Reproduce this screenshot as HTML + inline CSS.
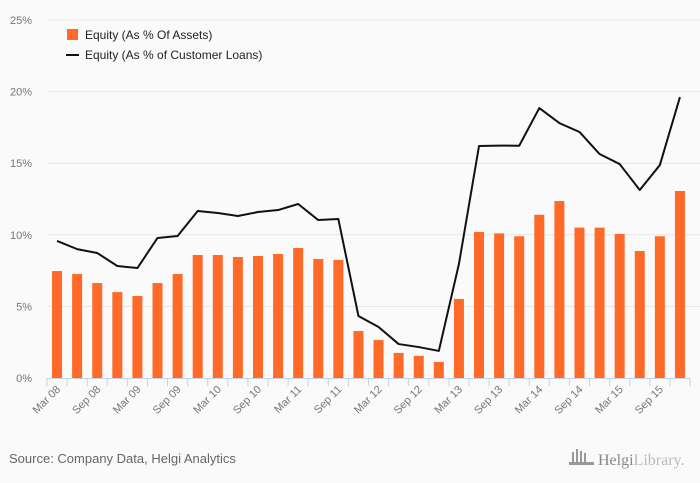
<!DOCTYPE html>
<html><head><meta charset="utf-8"><style>
body{margin:0;background:#fafafa;}
svg{display:block;font-family:"Liberation Sans",sans-serif;}
</style></head><body>
<svg id="c" width="700" height="483">
<rect width="700" height="483" fill="#fafafa"/>
<g id="grid"></g><g id="bars"></g><g id="line"></g><g id="axes"></g>
<g>
<rect x="67" y="29" width="11" height="11" fill="#ff6a28"/>
<text x="85" y="39" font-size="12" fill="#222">Equity (As % Of Assets)</text>
<line x1="66" y1="55" x2="79" y2="55" stroke="#111" stroke-width="2"/>
<text x="85" y="59" font-size="12" fill="#222">Equity (As % of Customer Loans)</text>
</g>
<text x="9" y="463" font-size="13" fill="#666">Source: Company Data, Helgi Analytics</text>
<g>
<rect x="572" y="452" width="2" height="10" fill="#999"/><rect x="576" y="449" width="2" height="13" fill="#999"/><rect x="580" y="451" width="2" height="11" fill="#999"/><rect x="584" y="453" width="2" height="9" fill="#999"/>
<rect x="569" y="462" width="25" height="3" fill="#999"/>
<text x="598" y="465" font-size="16" fill="#888" font-family="Liberation Serif,serif">Helgi<tspan fill="#bbb">Library.</tspan></text>
</g>
</svg>
<script>
const categories=["Mar 08","Jun 08","Sep 08","Dec 08","Mar 09","Jun 09","Sep 09","Dec 09","Mar 10","Jun 10","Sep 10","Dec 10","Mar 11","Jun 11","Sep 11","Dec 11","Mar 12","Jun 12","Sep 12","Dec 12","Mar 13","Jun 13","Sep 13","Dec 13","Mar 14","Jun 14","Sep 14","Dec 14","Mar 15","Jun 15","Sep 15","Dec 15"];
const assetsValues=[7.47,7.26,6.63,6.0,5.73,6.63,7.26,8.59,8.59,8.45,8.52,8.66,9.08,8.31,8.24,3.28,2.65,1.75,1.54,1.12,5.52,10.2,10.1,9.9,11.4,12.36,10.5,10.5,10.06,8.87,9.9,13.06];
const loansValues=[9.57,9.0,8.73,7.82,7.68,9.78,9.92,11.66,11.52,11.31,11.59,11.73,12.15,11.03,11.1,4.33,3.56,2.37,2.16,1.89,7.96,16.2,16.23,16.22,18.85,17.8,17.18,15.64,14.94,13.13,14.87,19.62];
const yTicks=[0,5,10,15,20,25];
const NS="http://www.w3.org/2000/svg";
const x0=47,x1=690,yb=378,yt=20,ymax=25;
const step=(x1-x0)/categories.length;
const xc=i=>x0+step*(i+0.5);
const y=v=>yb-(v/ymax)*(yb-yt);
function mk(t,a,p){const e=document.createElementNS(NS,t);for(const k in a)e.setAttribute(k,a[k]);p.appendChild(e);return e;}
const grid=document.getElementById('grid'),bars=document.getElementById('bars'),line=document.getElementById('line'),axes=document.getElementById('axes');
yTicks.forEach(v=>{
 if(v>0){const g=mk('line',{x1:x0,x2:x1+10,y1:y(v),y2:y(v),stroke:'#e6e6e6'},grid);
 
 }
 const t=mk('text',{x:32,y:y(v)+4,'font-size':11,fill:'#777','text-anchor':'end'},axes);t.textContent=v+'%';
 
 
});
assetsValues.forEach((v,i)=>{
 const r=mk('rect',{x:xc(i)-5,y:y(v),width:10,height:yb-y(v),fill:'#ff6a28'},bars);
 
 
});
const pl=mk('polyline',{points:loansValues.map((v,i)=>xc(i)+','+y(v)).join(' '),fill:'none',stroke:'#111','stroke-width':2,'stroke-linejoin':'round'},line);


const ax=mk('line',{x1:x0,x2:x1,y1:yb+0.5,y2:yb+0.5,stroke:'#c5d3e6'},axes);


for(let i=0;i<=categories.length;i++){const tk=mk('line',{x1:x0+step*i,x2:x0+step*i,y1:yb,y2:yb+8,stroke:'#c5d3e6'},axes);
 
 }
categories.forEach((c,i)=>{if(i%2)return;
 const cx=xc(i)+4,cy=yb+12;
 const t=mk('text',{x:cx,y:cy,'font-size':11,fill:'#777','text-anchor':'end',transform:`rotate(-45 ${cx} ${cy})`},axes);t.textContent=c;
 
 
});
</script>
</body></html>
